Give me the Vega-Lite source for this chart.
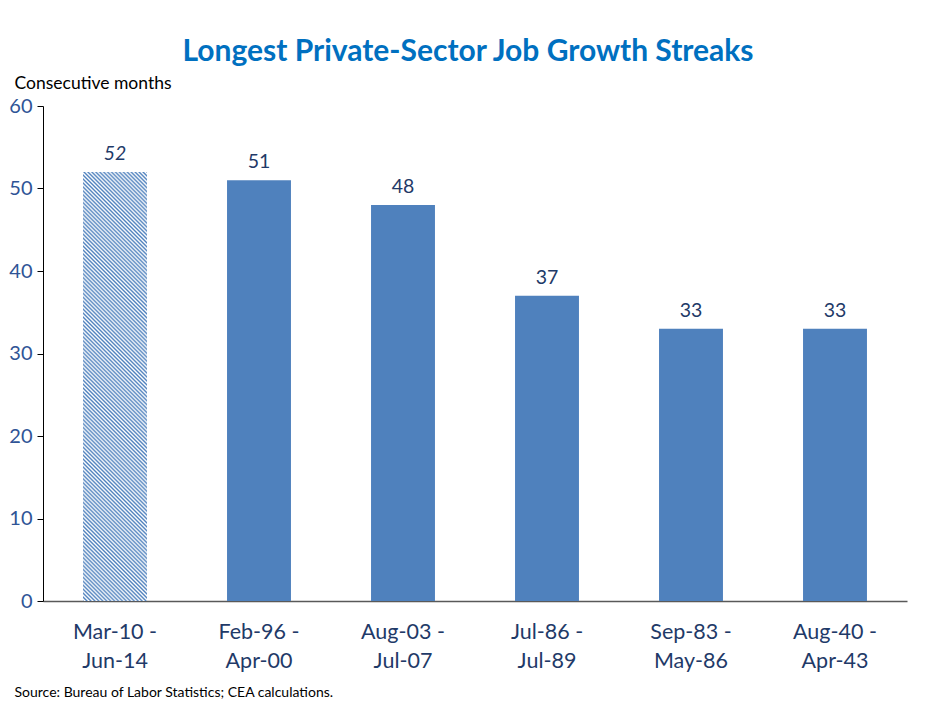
{
  "$schema": "https://vega.github.io/schema/vega-lite/v6.json",
  "width": 864,
  "height": 495,
  "autosize": "none",
  "padding": {"left": 43, "top": 106, "right": 33, "bottom": 124},
  "background": "white",
  "config": {"font": "Lato", "view": {"stroke": null}},
  "title": {
    "text": "Longest Private-Sector Job Growth Streaks",
    "fontSize": 30,
    "fontWeight": "bold",
    "color": "#0070C0",
    "anchor": "middle",
    "dx": -7,
    "offset": 7
  },
  "data": {
    "values": [
      {"period": "Mar-10 - Jun-14", "months": 52, "current": true},
      {"period": "Feb-96 - Apr-00", "months": 51, "current": false},
      {"period": "Aug-03 - Jul-07", "months": 48, "current": false},
      {"period": "Jul-86 - Jul-89", "months": 37, "current": false},
      {"period": "Sep-83 - May-86", "months": 33, "current": false},
      {"period": "Aug-40 - Apr-43", "months": 33, "current": false}
    ]
  },
  "encoding": {
    "x": {
      "field": "period",
      "type": "nominal",
      "sort": null,
      "scale": {"paddingInner": 0.556, "paddingOuter": 0.278},
      "axis": {
        "title": "Source: Bureau of Labor Statistics; CEA calculations.",
        "titleX": -29,
        "titleY": 95,
        "titleAlign": "left",
        "titleAnchor": null,
        "titleBaseline": "alphabetic",
        "titleFontSize": 14,
        "titleFontWeight": "normal",
        "titleColor": "#000000",
        "labelAngle": 0,
        "labelExpr": "[split(datum.label, ' - ')[0] + ' -', split(datum.label, ' - ')[1]]",
        "labelFontSize": 21.5,
        "labelLineHeight": 29,
        "labelColor": "#1F3A68",
        "labelPadding": 20,
        "ticks": false,
        "domainColor": "#595959",
        "domainWidth": 1.5
      }
    },
    "y": {
      "field": "months",
      "type": "quantitative",
      "scale": {"domain": [0, 60]},
      "axis": {
        "values": [0, 10, 20, 30, 40, 50, 60],
        "grid": false,
        "title": "Consecutive months",
        "titleAngle": 0,
        "titleX": -29,
        "titleY": -18,
        "titleAlign": "left",
        "titleAnchor": null,
        "titleBaseline": "alphabetic",
        "titleFontSize": 17.5,
        "titleFontWeight": "normal",
        "titleColor": "#000000",
        "labelFontSize": 20,
        "labelColor": "#2F5496",
        "labelPadding": 5,
        "tickSize": 6,
        "tickColor": "#000000",
        "domainColor": "#000000"
      }
    }
  },
  "layer": [
    {
      "transform": [{"filter": "datum.current"}],
      "mark": {
        "type": "bar",
        "fill": {
          "gradient": "linear",
          "x1": 0, "y1": 1, "x2": 0.1677, "y2": -0.1242,
          "stops": [
            {"offset": 0, "color": "#4f81bd"}, {"offset": 0.004, "color": "#ffffff"}, {"offset": 0.008, "color": "#4f81bd"}, {"offset": 0.012, "color": "#ffffff"}, {"offset": 0.016, "color": "#4f81bd"}, {"offset": 0.02, "color": "#ffffff"}, {"offset": 0.024, "color": "#4f81bd"}, {"offset": 0.028, "color": "#ffffff"}, {"offset": 0.032, "color": "#4f81bd"}, {"offset": 0.036, "color": "#ffffff"},
            {"offset": 0.04, "color": "#4f81bd"}, {"offset": 0.044, "color": "#ffffff"}, {"offset": 0.048, "color": "#4f81bd"}, {"offset": 0.052, "color": "#ffffff"}, {"offset": 0.056, "color": "#4f81bd"}, {"offset": 0.06, "color": "#ffffff"}, {"offset": 0.064, "color": "#4f81bd"}, {"offset": 0.068, "color": "#ffffff"}, {"offset": 0.072, "color": "#4f81bd"}, {"offset": 0.076, "color": "#ffffff"},
            {"offset": 0.08, "color": "#4f81bd"}, {"offset": 0.084, "color": "#ffffff"}, {"offset": 0.088, "color": "#4f81bd"}, {"offset": 0.092, "color": "#ffffff"}, {"offset": 0.096, "color": "#4f81bd"}, {"offset": 0.1, "color": "#ffffff"}, {"offset": 0.104, "color": "#4f81bd"}, {"offset": 0.108, "color": "#ffffff"}, {"offset": 0.112, "color": "#4f81bd"}, {"offset": 0.116, "color": "#ffffff"},
            {"offset": 0.12, "color": "#4f81bd"}, {"offset": 0.124, "color": "#ffffff"}, {"offset": 0.128, "color": "#4f81bd"}, {"offset": 0.132, "color": "#ffffff"}, {"offset": 0.136, "color": "#4f81bd"}, {"offset": 0.14, "color": "#ffffff"}, {"offset": 0.144, "color": "#4f81bd"}, {"offset": 0.148, "color": "#ffffff"}, {"offset": 0.152, "color": "#4f81bd"}, {"offset": 0.156, "color": "#ffffff"},
            {"offset": 0.16, "color": "#4f81bd"}, {"offset": 0.164, "color": "#ffffff"}, {"offset": 0.168, "color": "#4f81bd"}, {"offset": 0.172, "color": "#ffffff"}, {"offset": 0.176, "color": "#4f81bd"}, {"offset": 0.18, "color": "#ffffff"}, {"offset": 0.184, "color": "#4f81bd"}, {"offset": 0.188, "color": "#ffffff"}, {"offset": 0.192, "color": "#4f81bd"}, {"offset": 0.196, "color": "#ffffff"},
            {"offset": 0.2, "color": "#4f81bd"}, {"offset": 0.204, "color": "#ffffff"}, {"offset": 0.208, "color": "#4f81bd"}, {"offset": 0.212, "color": "#ffffff"}, {"offset": 0.216, "color": "#4f81bd"}, {"offset": 0.22, "color": "#ffffff"}, {"offset": 0.224, "color": "#4f81bd"}, {"offset": 0.228, "color": "#ffffff"}, {"offset": 0.232, "color": "#4f81bd"}, {"offset": 0.236, "color": "#ffffff"},
            {"offset": 0.24, "color": "#4f81bd"}, {"offset": 0.244, "color": "#ffffff"}, {"offset": 0.248, "color": "#4f81bd"}, {"offset": 0.252, "color": "#ffffff"}, {"offset": 0.256, "color": "#4f81bd"}, {"offset": 0.26, "color": "#ffffff"}, {"offset": 0.264, "color": "#4f81bd"}, {"offset": 0.268, "color": "#ffffff"}, {"offset": 0.272, "color": "#4f81bd"}, {"offset": 0.276, "color": "#ffffff"},
            {"offset": 0.28, "color": "#4f81bd"}, {"offset": 0.284, "color": "#ffffff"}, {"offset": 0.288, "color": "#4f81bd"}, {"offset": 0.292, "color": "#ffffff"}, {"offset": 0.296, "color": "#4f81bd"}, {"offset": 0.3, "color": "#ffffff"}, {"offset": 0.304, "color": "#4f81bd"}, {"offset": 0.308, "color": "#ffffff"}, {"offset": 0.312, "color": "#4f81bd"}, {"offset": 0.316, "color": "#ffffff"},
            {"offset": 0.32, "color": "#4f81bd"}, {"offset": 0.324, "color": "#ffffff"}, {"offset": 0.328, "color": "#4f81bd"}, {"offset": 0.332, "color": "#ffffff"}, {"offset": 0.336, "color": "#4f81bd"}, {"offset": 0.34, "color": "#ffffff"}, {"offset": 0.344, "color": "#4f81bd"}, {"offset": 0.348, "color": "#ffffff"}, {"offset": 0.352, "color": "#4f81bd"}, {"offset": 0.356, "color": "#ffffff"},
            {"offset": 0.36, "color": "#4f81bd"}, {"offset": 0.364, "color": "#ffffff"}, {"offset": 0.368, "color": "#4f81bd"}, {"offset": 0.372, "color": "#ffffff"}, {"offset": 0.376, "color": "#4f81bd"}, {"offset": 0.38, "color": "#ffffff"}, {"offset": 0.384, "color": "#4f81bd"}, {"offset": 0.388, "color": "#ffffff"}, {"offset": 0.392, "color": "#4f81bd"}, {"offset": 0.396, "color": "#ffffff"},
            {"offset": 0.4, "color": "#4f81bd"}, {"offset": 0.404, "color": "#ffffff"}, {"offset": 0.408, "color": "#4f81bd"}, {"offset": 0.412, "color": "#ffffff"}, {"offset": 0.416, "color": "#4f81bd"}, {"offset": 0.42, "color": "#ffffff"}, {"offset": 0.424, "color": "#4f81bd"}, {"offset": 0.428, "color": "#ffffff"}, {"offset": 0.432, "color": "#4f81bd"}, {"offset": 0.436, "color": "#ffffff"},
            {"offset": 0.44, "color": "#4f81bd"}, {"offset": 0.444, "color": "#ffffff"}, {"offset": 0.448, "color": "#4f81bd"}, {"offset": 0.452, "color": "#ffffff"}, {"offset": 0.456, "color": "#4f81bd"}, {"offset": 0.46, "color": "#ffffff"}, {"offset": 0.464, "color": "#4f81bd"}, {"offset": 0.468, "color": "#ffffff"}, {"offset": 0.472, "color": "#4f81bd"}, {"offset": 0.476, "color": "#ffffff"},
            {"offset": 0.48, "color": "#4f81bd"}, {"offset": 0.484, "color": "#ffffff"}, {"offset": 0.488, "color": "#4f81bd"}, {"offset": 0.492, "color": "#ffffff"}, {"offset": 0.496, "color": "#4f81bd"}, {"offset": 0.5, "color": "#ffffff"}, {"offset": 0.504, "color": "#4f81bd"}, {"offset": 0.508, "color": "#ffffff"}, {"offset": 0.512, "color": "#4f81bd"}, {"offset": 0.516, "color": "#ffffff"},
            {"offset": 0.52, "color": "#4f81bd"}, {"offset": 0.524, "color": "#ffffff"}, {"offset": 0.528, "color": "#4f81bd"}, {"offset": 0.532, "color": "#ffffff"}, {"offset": 0.536, "color": "#4f81bd"}, {"offset": 0.54, "color": "#ffffff"}, {"offset": 0.544, "color": "#4f81bd"}, {"offset": 0.548, "color": "#ffffff"}, {"offset": 0.552, "color": "#4f81bd"}, {"offset": 0.556, "color": "#ffffff"},
            {"offset": 0.56, "color": "#4f81bd"}, {"offset": 0.564, "color": "#ffffff"}, {"offset": 0.568, "color": "#4f81bd"}, {"offset": 0.572, "color": "#ffffff"}, {"offset": 0.576, "color": "#4f81bd"}, {"offset": 0.58, "color": "#ffffff"}, {"offset": 0.584, "color": "#4f81bd"}, {"offset": 0.588, "color": "#ffffff"}, {"offset": 0.592, "color": "#4f81bd"}, {"offset": 0.596, "color": "#ffffff"},
            {"offset": 0.6, "color": "#4f81bd"}, {"offset": 0.604, "color": "#ffffff"}, {"offset": 0.608, "color": "#4f81bd"}, {"offset": 0.612, "color": "#ffffff"}, {"offset": 0.616, "color": "#4f81bd"}, {"offset": 0.62, "color": "#ffffff"}, {"offset": 0.624, "color": "#4f81bd"}, {"offset": 0.628, "color": "#ffffff"}, {"offset": 0.632, "color": "#4f81bd"}, {"offset": 0.636, "color": "#ffffff"},
            {"offset": 0.64, "color": "#4f81bd"}, {"offset": 0.644, "color": "#ffffff"}, {"offset": 0.648, "color": "#4f81bd"}, {"offset": 0.652, "color": "#ffffff"}, {"offset": 0.656, "color": "#4f81bd"}, {"offset": 0.66, "color": "#ffffff"}, {"offset": 0.664, "color": "#4f81bd"}, {"offset": 0.668, "color": "#ffffff"}, {"offset": 0.672, "color": "#4f81bd"}, {"offset": 0.676, "color": "#ffffff"},
            {"offset": 0.68, "color": "#4f81bd"}, {"offset": 0.684, "color": "#ffffff"}, {"offset": 0.688, "color": "#4f81bd"}, {"offset": 0.692, "color": "#ffffff"}, {"offset": 0.696, "color": "#4f81bd"}, {"offset": 0.7, "color": "#ffffff"}, {"offset": 0.704, "color": "#4f81bd"}, {"offset": 0.708, "color": "#ffffff"}, {"offset": 0.712, "color": "#4f81bd"}, {"offset": 0.716, "color": "#ffffff"},
            {"offset": 0.72, "color": "#4f81bd"}, {"offset": 0.724, "color": "#ffffff"}, {"offset": 0.728, "color": "#4f81bd"}, {"offset": 0.732, "color": "#ffffff"}, {"offset": 0.736, "color": "#4f81bd"}, {"offset": 0.74, "color": "#ffffff"}, {"offset": 0.744, "color": "#4f81bd"}, {"offset": 0.748, "color": "#ffffff"}, {"offset": 0.752, "color": "#4f81bd"}, {"offset": 0.756, "color": "#ffffff"},
            {"offset": 0.76, "color": "#4f81bd"}, {"offset": 0.764, "color": "#ffffff"}, {"offset": 0.768, "color": "#4f81bd"}, {"offset": 0.772, "color": "#ffffff"}, {"offset": 0.776, "color": "#4f81bd"}, {"offset": 0.78, "color": "#ffffff"}, {"offset": 0.784, "color": "#4f81bd"}, {"offset": 0.788, "color": "#ffffff"}, {"offset": 0.792, "color": "#4f81bd"}, {"offset": 0.796, "color": "#ffffff"},
            {"offset": 0.8, "color": "#4f81bd"}, {"offset": 0.804, "color": "#ffffff"}, {"offset": 0.808, "color": "#4f81bd"}, {"offset": 0.812, "color": "#ffffff"}, {"offset": 0.816, "color": "#4f81bd"}, {"offset": 0.82, "color": "#ffffff"}, {"offset": 0.824, "color": "#4f81bd"}, {"offset": 0.828, "color": "#ffffff"}, {"offset": 0.832, "color": "#4f81bd"}, {"offset": 0.836, "color": "#ffffff"},
            {"offset": 0.84, "color": "#4f81bd"}, {"offset": 0.844, "color": "#ffffff"}, {"offset": 0.848, "color": "#4f81bd"}, {"offset": 0.852, "color": "#ffffff"}, {"offset": 0.856, "color": "#4f81bd"}, {"offset": 0.86, "color": "#ffffff"}, {"offset": 0.864, "color": "#4f81bd"}, {"offset": 0.868, "color": "#ffffff"}, {"offset": 0.872, "color": "#4f81bd"}, {"offset": 0.876, "color": "#ffffff"},
            {"offset": 0.88, "color": "#4f81bd"}, {"offset": 0.884, "color": "#ffffff"}, {"offset": 0.888, "color": "#4f81bd"}, {"offset": 0.892, "color": "#ffffff"}, {"offset": 0.896, "color": "#4f81bd"}, {"offset": 0.9, "color": "#ffffff"}, {"offset": 0.904, "color": "#4f81bd"}, {"offset": 0.908, "color": "#ffffff"}, {"offset": 0.912, "color": "#4f81bd"}, {"offset": 0.916, "color": "#ffffff"},
            {"offset": 0.92, "color": "#4f81bd"}, {"offset": 0.924, "color": "#ffffff"}, {"offset": 0.928, "color": "#4f81bd"}, {"offset": 0.932, "color": "#ffffff"}, {"offset": 0.936, "color": "#4f81bd"}, {"offset": 0.94, "color": "#ffffff"}, {"offset": 0.944, "color": "#4f81bd"}, {"offset": 0.948, "color": "#ffffff"}, {"offset": 0.952, "color": "#4f81bd"}, {"offset": 0.956, "color": "#ffffff"},
            {"offset": 0.96, "color": "#4f81bd"}, {"offset": 0.964, "color": "#ffffff"}, {"offset": 0.968, "color": "#4f81bd"}, {"offset": 0.972, "color": "#ffffff"}, {"offset": 0.976, "color": "#4f81bd"}, {"offset": 0.98, "color": "#ffffff"}, {"offset": 0.984, "color": "#4f81bd"}, {"offset": 0.988, "color": "#ffffff"}, {"offset": 0.992, "color": "#4f81bd"}, {"offset": 0.996, "color": "#ffffff"},
            {"offset": 1, "color": "#4f81bd"}
          ]
        }
      }
    },
    {
      "transform": [{"filter": "!datum.current"}],
      "mark": {"type": "bar", "color": "#4F81BD"}
    },
    {
      "transform": [{"filter": "datum.current"}],
      "mark": {"type": "text", "baseline": "alphabetic", "dy": -12, "fontSize": 19.5, "fontStyle": "italic", "color": "#1F3A68"},
      "encoding": {"text": {"field": "months", "type": "quantitative"}}
    },
    {
      "transform": [{"filter": "!datum.current"}],
      "mark": {"type": "text", "baseline": "alphabetic", "dy": -12, "fontSize": 19.5, "color": "#1F3A68"},
      "encoding": {"text": {"field": "months", "type": "quantitative"}}
    }
  ]
}
